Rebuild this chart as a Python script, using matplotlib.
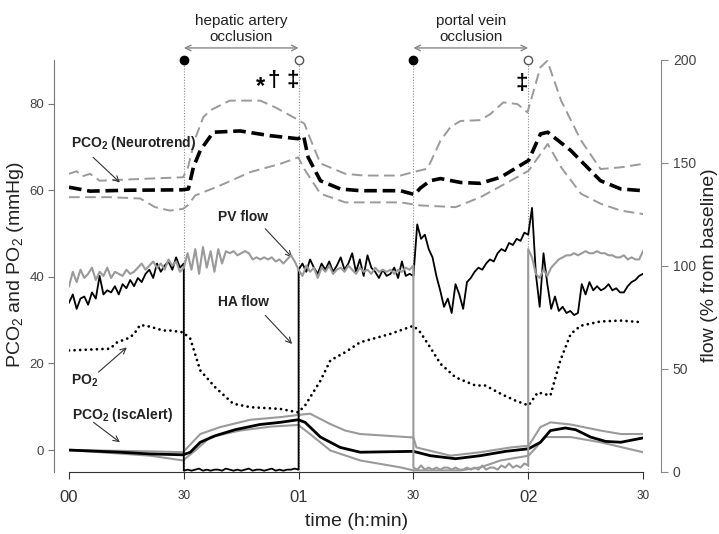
import numpy as np
import matplotlib
matplotlib.use("Agg")
import matplotlib.pyplot as plt
import matplotlib.transforms as mtransforms

plt.rcParams['font.family'] = ['Liberation Sans', 'DejaVu Sans']
plt.rcParams['mathtext.fontset'] = 'custom'
plt.rcParams['mathtext.rm'] = 'Liberation Sans'
plt.rcParams['mathtext.bf'] = 'Liberation Sans:bold'
plt.rcParams['mathtext.default'] = 'rm'

# ---- data (time in minutes, left axis mmHg, right axis % of baseline) ----
nt_t = [0, 5.5, 15, 29.5, 31.2, 32.5, 34.3, 37.7, 44.7, 52.6, 59.9, 61.3, 62.5, 65.7,
        70.9, 76.1, 86.6, 90.3, 91.8, 94.4, 97.1, 102.3, 107.5, 112.8, 120.1, 123.2,
        125.1, 131.1, 138.9, 144.2, 150]
nt_mean = [60.7, 59.8, 60.0, 60.1, 60.3, 65.3, 69.2, 73.4, 73.7, 72.6, 71.9, 72.6, 67.6, 62.2,
           60.3, 59.9, 59.9, 59.0, 60.5, 62.2, 62.7, 61.8, 61.6, 63.0, 66.9, 73.0,
           73.4, 69.2, 62.2, 60.3, 59.9]

nt_up_t = [0, 2, 3.4, 5.5, 8, 18.3, 29.8, 31, 33, 35.1, 37, 42, 50, 53.8, 59.4, 61.5, 63,
           65.7, 72.2, 77, 86.6, 90, 93.7, 97.1, 99.7, 102.3, 107.5, 110.1, 113.5, 117.2,
           119.8, 123.2, 125, 128.6, 133.8, 138.9, 144.2, 150]
nt_up = [63.8, 64.4, 63.2, 63.8, 62.2, 62.6, 63.0, 65.0, 72.0, 76.9, 78.5, 80.7, 80.7, 79.2,
         76.5, 75.4, 72.0, 66.2, 63.8, 63.4, 63.4, 64.2, 65.0, 71.5, 74.6, 76.0, 76.2, 77.6,
         80.3, 79.9, 78.0, 88.4, 89.9, 80.7, 71.5, 64.9, 65.3, 66.1]

nt_lo_t = [0, 10.7, 18.6, 22.5, 26.4, 29.8, 31, 33, 39.5, 47.4, 55.2, 59.9, 61.5, 65.7, 72.2,
           86.6, 91.8, 101, 107.5, 115.4, 120.1, 125.1, 128.6, 133.8, 138.9, 144.2, 150]
nt_lo = [58.4, 58.4, 58.1, 56.1, 55.3, 55.7, 56.5, 58.8, 61.1, 64.2, 66.1, 67.6, 64.9, 59.2,
         57.2, 57.2, 56.5, 56.1, 58.4, 62.2, 64.5, 70.7, 65.3, 59.2, 56.9, 55.3, 54.5]

po2_t = [0, 10.7, 12.6, 16, 17.3, 18.6, 21.2, 24.6, 26.4, 29.8, 31.7, 34.3, 38.2, 42.9, 47.4,
         55.2, 59.9, 61.7, 65.7, 68.3, 72.2, 76.1, 83.9, 90, 91.8, 94.4, 97.1, 101, 106.2,
         108.8, 112.8, 116.7, 120.1, 122.5, 125.8, 128.4, 131.1, 133.7, 138.9, 144.2, 150]
po2 = [23.0, 23.4, 24.9, 26.0, 27.2, 28.9, 28.5, 27.6, 27.6, 27.2, 25.7, 18.4, 14.5, 10.7, 9.9,
       9.5, 8.7, 10.3, 16.0, 20.7, 22.6, 24.9, 26.8, 28.7, 27.2, 23.7, 19.9, 16.8, 14.9,
       14.9, 13.0, 11.4, 10.3, 13.3, 12.6, 20.7, 26.8, 28.7, 29.7, 29.9, 29.5]

isc_t = [0, 13.3, 21.2, 29.8, 31.7, 34.3, 38.2, 43.4, 49.9, 55.2, 59.9, 61.7, 65.7, 70.9, 76.1,
         90, 94.4, 101, 107.5, 114.1, 120.1, 123.2, 125.8, 129.7, 132.4, 136.3, 140.2, 144.2, 150]
isc_mean = [0.0, -0.5, -0.9, -1.1, -0.5, 1.8, 3.3, 4.7, 5.9, 6.4, 7.0, 6.4, 3.0, 0.6, -0.5,
            -0.3, -1.3, -2.0, -1.3, -0.3, 0.3, 1.8, 4.5, 5.1, 4.7, 3.0, 2.0, 1.8, 2.8]

isc_up_t = [0, 21.2, 29.8, 34.3, 39.5, 47.4, 55.2, 59.9, 63, 68.3, 72.2, 76.1, 90, 90.8, 99.7,
            107.5, 115.4, 120.1, 123.2, 125.8, 131.1, 138.9, 144.2, 150]
isc_up = [0.0, -0.3, -0.5, 3.7, 5.3, 7.0, 7.6, 8.1, 8.4, 6.0, 4.5, 3.7, 2.9, 0.6, -1.3,
          -0.5, 0.6, 1.0, 5.3, 6.4, 5.9, 4.5, 3.7, 3.7]

isc_lo_t = [0, 21.2, 29.8, 33, 36.9, 44.7, 52.6, 59.9, 63, 68.3, 76.1, 86.6, 90, 102.3, 107.5,
            112.8, 120.1, 124.5, 131.1, 138.9, 150]
isc_lo = [0.0, -1.3, -2.4, -0.1, 3.0, 4.5, 5.4, 5.8, 3.7, -0.1, -2.4, -4.0, -4.7, -4.7, -4.0,
          -2.4, -1.3, 3.0, 3.0, 1.8, -0.5]

# flows, one value per minute in each 30-min period (both ends included)
ha_flow_p1 = [82, 86, 79, 84, 85, 81, 87, 84, 95, 86, 88, 87, 90, 86, 91, 89, 93, 90, 94, 92,
              96, 98, 94, 101, 97, 100, 102, 98, 104, 99, 101]
ha_flow_p2 = [0.5, 1, 0.5, 1, 1.5, 0.5, 1, 0.5, 1, 1, 0.5, 1.5, 1, 0.5, 1, 0.5, 1, 1.5, 0.5, 1,
              1, 0.5, 1, 1.5, 0.5, 1, 0.5, 1, 1, 1.5, 1]
ha_flow_p3 = [98, 101, 97, 103, 99, 96, 101, 98, 102, 97, 100, 104, 98, 101, 106, 97, 103, 95,
              105, 99, 97, 94, 98, 95, 96, 99, 94, 102, 95, 96, 95]
ha_flow_p4 = [95, 120, 113, 115, 108, 104, 95, 88, 80, 84, 77, 91, 86, 79, 92, 94, 97, 99, 98,
              101, 103, 102, 106, 108, 107, 111, 110, 113, 112, 116, 115]
ha_flow_p5 = [115, 128, 96, 80, 106, 91, 79, 85, 78, 80, 77, 78, 76, 77, 91, 86, 92, 88, 90, 88,
              89, 91, 88, 89, 87, 87, 90, 92, 93, 95, 96]

pv_flow_p1 = [90, 97, 92, 98, 94, 96, 99, 93, 97, 95, 99, 94, 97, 96, 95, 98, 96, 97, 99, 101,
              98, 100, 102, 99, 101, 98, 103, 100, 102, 97, 99]
pv_flow_p2 = [99, 106, 98, 108, 96, 109, 99, 107, 97, 108, 101, 107, 106, 107, 105, 106, 107,
              106, 103, 104, 103, 104, 103, 104, 102, 103, 101, 103, 105, 102, 98]
pv_flow_p3 = [98, 95, 100, 97, 99, 94, 99, 97, 100, 96, 98, 99, 97, 100, 98, 96, 99, 97, 98, 96,
              99, 97, 98, 97, 98, 96, 98, 97, 99, 98, 100]
pv_flow_p4 = [2, 1, 3, 1, 2, 1, 2, 1, 2, 2, 1, 2, 1, 1, 2, 1, 2, 1, 3, 1, 2, 2, 1, 3, 2, 4, 2, 3,
              2, 4, 3]
pv_flow_p5 = [108, 104, 96, 94, 98, 95, 99, 101, 103, 104, 105, 105, 106, 105, 106, 107, 106,
              106, 107, 106, 106, 105, 105, 104, 104, 105, 103, 104, 103, 103, 107]

occl_times = [30, 60, 90, 120]
xtick_pos = [0, 30, 60, 90, 120, 150]
xtick_labels = ["00", "30", "01", "30", "02", "30"]


def per_minute(*periods):
    t, v = [], []
    for i, p in enumerate(periods):
        t += list(np.arange(len(p)) + 30 * i)
        v += p
    return t, v


ha_t, ha_flow = per_minute(ha_flow_p1, ha_flow_p2, ha_flow_p3, ha_flow_p4, ha_flow_p5)
pv_t, pv_flow = per_minute(pv_flow_p1, pv_flow_p2, pv_flow_p3, pv_flow_p4, pv_flow_p5)

gray = "#9a9a9a"

fig = plt.figure(figsize=(7.19, 5.34), dpi=100)
ax = fig.add_axes([69 / 719, 1 - 471.7 / 534, 574 / 719, 412.2 / 534])
ax2 = ax.twinx()

# occlusion markers
for t in occl_times:
    ax.axvline(t, color="#8a8a8a", ls=(0, (1, 1.5)), lw=0.8, zorder=0)

# left axis series
ax.plot(nt_up_t, nt_up, color=gray, lw=1.4, ls=(0, (5.5, 2.8)))
ax.plot(nt_lo_t, nt_lo, color=gray, lw=1.4, ls=(0, (5.5, 2.8)))
ax.plot(nt_t, nt_mean, color="black", lw=2.6, ls=(0, (3.5, 1.6)))
ax.plot(po2_t, po2, color="black", lw=2.0, ls=(0, (0.01, 2.0)), dash_capstyle="round")
ax.plot(isc_up_t, isc_up, color=gray, lw=1.5)
ax.plot(isc_lo_t, isc_lo, color=gray, lw=1.5)
ax.plot(isc_t, isc_mean, color="black", lw=2.0)

# right axis flows
ax2.plot(ha_t, ha_flow, color="black", lw=1.3)
ax2.plot(pv_t, pv_flow, color=gray, lw=1.5)

ax.set_xlim(0, 150)
ax.set_ylim(-5, 90.2)
ax2.set_ylim(0, 200)

ax.set_yticks([0, 20, 40, 60, 80])
ax2.set_yticks([0, 50, 100, 150, 200])
ax.set_xticks(xtick_pos)
ax.set_xticklabels(xtick_labels)
for lab in ax.get_xticklabels():
    lab.set_fontsize(8.5 if lab.get_text() == "30" else 12)
    lab.set_color("#333333")

for a in (ax, ax2):
    a.spines["top"].set_visible(False)
ax.spines["right"].set_visible(False)
ax2.spines["left"].set_visible(False)
ax2.spines["bottom"].set_visible(False)
ax.spines["left"].set_position(("outward", 11))
ax2.spines["right"].set_position(("outward", 13))
ax.spines["left"].set_color("#777777")
ax2.spines["right"].set_color("#888888")
ax.spines["bottom"].set_color("#333333")
ax.tick_params(axis="y", labelsize=9.5, labelcolor="#444444", color="#777777", length=4, pad=3)
ax2.tick_params(axis="y", labelsize=10, labelcolor="#444444", color="#888888", length=5)
ax.tick_params(axis="x", color="#333333", length=5, pad=8)

# axis labels
fig.text(16 / 719, 1 - 265 / 534, r"PCO$_2$ and PO$_2$ (mmHg)", rotation=90, ha="center",
         va="center", fontsize=14, color="#222222")
fig.text(709 / 719, 1 - 265 / 534, "flow (% from baseline)", rotation=90, ha="center",
         va="center", fontsize=14, color="#222222")
fig.text(357 / 719, 1 - 521 / 534, "time (h:min)", ha="center", va="center", fontsize=14,
         color="#222222")

# occlusion periods above the plot
trans = mtransforms.blended_transform_factory(ax.transData, ax.transAxes)
for (t0, t1), txt in zip([(30, 60), (90, 120)], ["hepatic artery\nocclusion", "portal vein\nocclusion"]):
    ax.annotate("", xy=(t0, 1.028), xytext=(t1, 1.028), xycoords=trans, textcoords=trans,
                arrowprops=dict(arrowstyle="<->", color="#888888", lw=1.0,
                                shrinkA=0, shrinkB=0), annotation_clip=False)
    ax.text((t0 + t1) / 2, 1.074, txt, transform=trans, ha="center", va="center",
            fontsize=11, color="#222222", linespacing=1.15)
    ax.plot([t0], [1.0], "o", color="black", ms=6, transform=trans, clip_on=False)
    ax.plot([t1], [1.0], "o", mfc="white", mec="#555555", mew=1, ms=6, transform=trans,
            clip_on=False)

# significance symbols
ax.text(50.0, 84.0, "*", fontsize=17, fontweight="bold", ha="center", va="center")
ax.text(53.6, 85.3, "†", fontsize=16, fontweight="bold", ha="center", va="center")
ax.text(58.5, 85.3, "‡", fontsize=16, fontweight="bold", ha="center", va="center")
ax.text(118.2, 84.6, "‡", fontsize=16, fontweight="bold", ha="center", va="center")

# series labels with arrows
labels = [
    (r"PCO$_\mathbf{2}$ (Neurotrend)", (17.0, 70.8), (6.3, 67.6), (13.3, 61.8)),
    ("PV flow", (45.5, 53.9), (51.3, 51.1), (58.3, 44.5)),
    ("HA flow", (45.5, 34.1), (51.3, 31.1), (58.3, 24.5)),
    (r"PO$_\mathbf{2}$", (4.1, 16.1), (7.7, 18.0), (15.1, 23.7)),
    (r"PCO$_\mathbf{2}$ (IscAlert)", (13.9, 8.0), (6.4, 6.4), (13.3, 1.8)),
]
for txt, pos, start, tip in labels:
    ax.text(pos[0], pos[1], txt, fontsize=10, fontweight="bold", ha="center", va="center",
            color="#222222")
    ax.annotate("", xy=tip, xytext=start,
                arrowprops=dict(arrowstyle="->", color="#333333", lw=0.8,
                                shrinkA=0, shrinkB=0))

fig.savefig("out.png", dpi=100)
